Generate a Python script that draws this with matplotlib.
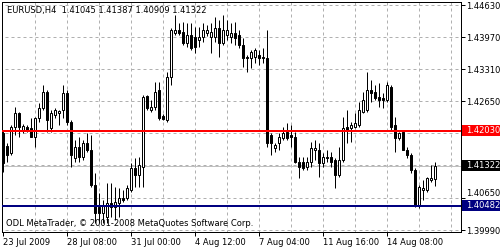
import matplotlib
matplotlib.use("Agg")
import matplotlib.pyplot as plt
from matplotlib.patches import Rectangle
from matplotlib.transforms import blended_transform_factory

symbol = "EURUSD,H4"

# EURUSD H4 bars
opens = [1.4199, 1.4173, 1.4158, 1.4212, 1.4241, 1.4206, 1.4212, 1.4210, 1.4191, 1.4230,
         1.4251, 1.4284, 1.4210, 1.4236, 1.4241, 1.4247, 1.4282, 1.4222, 1.4148, 1.4170,
         1.4150, 1.4179, 1.4164, 1.4092, 1.4047, 1.4035, 1.4026, 1.4055, 1.4047, 1.4055,
         1.4065, 1.4065, 1.4082, 1.4127, 1.4113, 1.4129, 1.4276, 1.4247, 1.4253, 1.4288,
         1.4234, 1.4226, 1.4315, 1.4405, 1.4412, 1.4407, 1.4385, 1.4401, 1.4397, 1.4391,
         1.4397, 1.4405, 1.4397, 1.4397, 1.4416, 1.4385, 1.4401, 1.4397, 1.4405, 1.4401,
         1.4381, 1.4356, 1.4354, 1.4356, 1.4360, 1.4356, 1.4354, 1.4195, 1.4168, 1.4179,
         1.4189, 1.4201, 1.4195, 1.4191, 1.4140, 1.4140, 1.4129, 1.4140, 1.4164, 1.4164,
         1.4138, 1.4150, 1.4150, 1.4144, 1.4113, 1.4144, 1.4212, 1.4210, 1.4212, 1.4216,
         1.4243, 1.4247, 1.4288, 1.4284, 1.4273, 1.4271, 1.4267, 1.4294, 1.4216, 1.4189,
         1.4201, 1.4164, 1.4154, 1.4123, 1.4051, 1.4082, 1.4082, 1.4103, 1.41045]
highs = [1.4203, 1.4179, 1.4216, 1.4253, 1.4243, 1.4218, 1.4216, 1.4230, 1.4232, 1.4261,
         1.4298, 1.4288, 1.4247, 1.4251, 1.4247, 1.4298, 1.4288, 1.4226, 1.4185, 1.4191,
         1.4185, 1.4199, 1.4195, 1.4117, 1.4076, 1.4061, 1.4096, 1.4096, 1.4088, 1.4086,
         1.4082, 1.4092, 1.4138, 1.4148, 1.4150, 1.4278, 1.4278, 1.4267, 1.4304, 1.4304,
         1.4238, 1.4325, 1.4416, 1.4442, 1.4426, 1.4428, 1.4426, 1.4426, 1.4418, 1.4418,
         1.4426, 1.4422, 1.4426, 1.4438, 1.4432, 1.4442, 1.4432, 1.4426, 1.4428, 1.4412,
         1.4395, 1.4360, 1.4370, 1.4374, 1.4370, 1.4374, 1.4412, 1.4199, 1.4179, 1.4199,
         1.4212, 1.4220, 1.4216, 1.4201, 1.4150, 1.4150, 1.4150, 1.4181, 1.4185, 1.4179,
         1.4158, 1.4164, 1.4160, 1.4148, 1.4170, 1.4232, 1.4247, 1.4222, 1.4241, 1.4263,
         1.4284, 1.4325, 1.4309, 1.4298, 1.4302, 1.4282, 1.4304, 1.4298, 1.4232, 1.4201,
         1.4206, 1.4170, 1.4158, 1.4127, 1.4092, 1.4103, 1.4109, 1.4133, 1.41387]
lows = [1.4119, 1.4140, 1.4154, 1.4195, 1.4191, 1.4199, 1.4201, 1.4191, 1.4170, 1.4222,
        1.4247, 1.4201, 1.4201, 1.4230, 1.4216, 1.4230, 1.4216, 1.4129, 1.4140, 1.4140,
        1.4144, 1.4160, 1.4088, 1.4014, 1.4014, 1.4014, 1.4014, 1.4026, 1.4020, 1.4026,
        1.4057, 1.4061, 1.4078, 1.4088, 1.4088, 1.4088, 1.4247, 1.4243, 1.4247, 1.4226,
        1.4226, 1.4222, 1.4298, 1.4401, 1.4401, 1.4381, 1.4376, 1.4370, 1.4364, 1.4376,
        1.4387, 1.4399, 1.4364, 1.4387, 1.4356, 1.4381, 1.4391, 1.4385, 1.4381, 1.4374,
        1.4335, 1.4325, 1.4333, 1.4344, 1.4339, 1.4344, 1.4170, 1.4154, 1.4160, 1.4164,
        1.4185, 1.4185, 1.4170, 1.4138, 1.4107, 1.4123, 1.4123, 1.4129, 1.4144, 1.4109,
        1.4129, 1.4140, 1.4129, 1.4086, 1.4109, 1.4140, 1.4179, 1.4181, 1.4210, 1.4212,
        1.4241, 1.4243, 1.4263, 1.4267, 1.4253, 1.4251, 1.4263, 1.4206, 1.4160, 1.4185,
        1.4164, 1.4148, 1.4117, 1.4047, 1.4045, 1.4061, 1.4078, 1.4098, 1.40909]
closes = [1.4138, 1.4154, 1.4212, 1.4241, 1.4212, 1.4214, 1.4206, 1.4191, 1.4230, 1.4251,
          1.4284, 1.4226, 1.4241, 1.4247, 1.4245, 1.4282, 1.4222, 1.4154, 1.4170, 1.4150,
          1.4179, 1.4164, 1.4092, 1.4035, 1.4035, 1.4049, 1.4055, 1.4047, 1.4057, 1.4065,
          1.4061, 1.4086, 1.4127, 1.4113, 1.4133, 1.4273, 1.4251, 1.4253, 1.4284, 1.4230,
          1.4228, 1.4315, 1.4412, 1.4412, 1.4405, 1.4385, 1.4401, 1.4374, 1.4376, 1.4397,
          1.4412, 1.4412, 1.4407, 1.4416, 1.4385, 1.4412, 1.4412, 1.4405, 1.4395, 1.4381,
          1.4354, 1.4354, 1.4366, 1.4370, 1.4354, 1.4354, 1.4179, 1.4179, 1.4175, 1.4191,
          1.4199, 1.4189, 1.4191, 1.4140, 1.4129, 1.4127, 1.4140, 1.4168, 1.4168, 1.4138,
          1.4150, 1.4148, 1.4140, 1.4113, 1.4144, 1.4210, 1.4206, 1.4216, 1.4220, 1.4247,
          1.4267, 1.4288, 1.4282, 1.4271, 1.4267, 1.4267, 1.4298, 1.4212, 1.4189, 1.4199,
          1.4164, 1.4154, 1.4123, 1.4051, 1.4088, 1.4086, 1.4107, 1.4107, 1.41322]

price_ticks = [1.44630, 1.43970, 1.43310, 1.42650, 1.41990, 1.41330, 1.40650, 1.39990]
# 1.41990 and 1.41330 sit under the level boxes, so no text for them
price_tick_labels = ["1.44630", "1.43970", "1.43310", "1.42650", "", "", "1.40650", "1.39990"]
time_labels = ["23 Jul 2009", "28 Jul 08:00", "31 Jul 00:00", "4 Aug 12:00",
               "7 Aug 04:00", "11 Aug 16:00", "14 Aug 08:00"]
time_label_bars = [0, 16, 32, 48, 64, 80, 96]
grid_bars = [8, 16, 24, 32, 40, 48, 56, 64, 72, 80, 88, 96, 104, 112]
resistance = 1.42030
support = 1.40482
bid = closes[-1]

PX = 0.72  # one pixel in points at dpi 100
FS = 6
YMIN, YMAX = 1.39954, 1.44692

fig = plt.figure(figsize=(5, 2.5), dpi=100)
ax = fig.add_axes([2 / 500, 18 / 250, 459 / 500, 230 / 250])
ax.set_xlim(-0.25, 114.5)
ax.set_ylim(YMIN, YMAX)

# grid
ax.hlines(price_ticks, -1, 120, colors="#b0b0b0", linestyles=(0, (3, 3)), lw=PX, zorder=0)
ax.vlines(grid_bars, 1.3, 1.5, colors="#b0b0b0", linestyles=(0, (3, 3)), lw=PX, zorder=0)

# bid / levels
ax.axhline(bid, color="#c0c0c0", lw=PX, zorder=1)
ax.axhline(resistance, color="#ff0000", lw=2 * PX, zorder=4)
ax.axhline(support, color="#000080", lw=2 * PX, zorder=4)

# candles
xs = list(range(len(opens)))
ax.vlines(xs, lows, highs, colors="black", lw=PX, zorder=2)
for i in xs:
    o, c = opens[i], closes[i]
    face = "white" if c >= o else "black"
    ax.add_patch(Rectangle((i - 0.25, min(o, c)), 0.5, abs(c - o),
                           facecolor=face, edgecolor="black", lw=PX, zorder=3))

# axes styling
for s in ax.spines.values():
    s.set_linewidth(PX)
    s.set_color("black")
ax.yaxis.tick_right()
ax.set_yticks(price_ticks)
ax.set_yticklabels(price_tick_labels)
ax.set_xticks(time_label_bars)
ax.set_xticklabels(time_labels)
ax.tick_params(axis="both", length=4 * PX, width=PX, labelsize=FS, pad=PX)
ax.tick_params(axis="x", pad=2 * PX)
for lbl in ax.get_yticklabels():
    if lbl.get_text() == "1.40650":
        lbl.set_va("bottom")
for lbl in ax.get_xticklabels():
    lbl.set_ha("left")

# price label boxes on the right axis
tr = blended_transform_factory(fig.transFigure, ax.transData)
px_price = (YMAX - YMIN) / 230
for price, col in [(resistance, "#ff0000"), (bid, "#000000"), (support, "#000080")]:
    fig.patches.append(Rectangle((462 / 500, price - 5 * px_price), 38 / 500, 11 * px_price,
                                 transform=tr, facecolor=col, edgecolor="none", zorder=5))
    fig.text(466 / 500, price + 0.5 * px_price, f"{price:.5f}", transform=tr, color="white",
             fontsize=FS, va="center", ha="left", zorder=6)

fig.text(7 / 500, 1 - 11 / 250,
         f"{symbol}  {opens[-1]:.5f} {highs[-1]:.5f} {lows[-1]:.5f} {closes[-1]:.5f}",
         fontsize=FS, va="center", ha="left")
fig.text(6 / 500, 1 - 224 / 250, "ODL MetaTrader, \u00a9 2001-2008 MetaQuotes Software Corp.",
         fontsize=FS, va="center", ha="left")

fig.savefig("out.png", dpi=100, facecolor="white")
